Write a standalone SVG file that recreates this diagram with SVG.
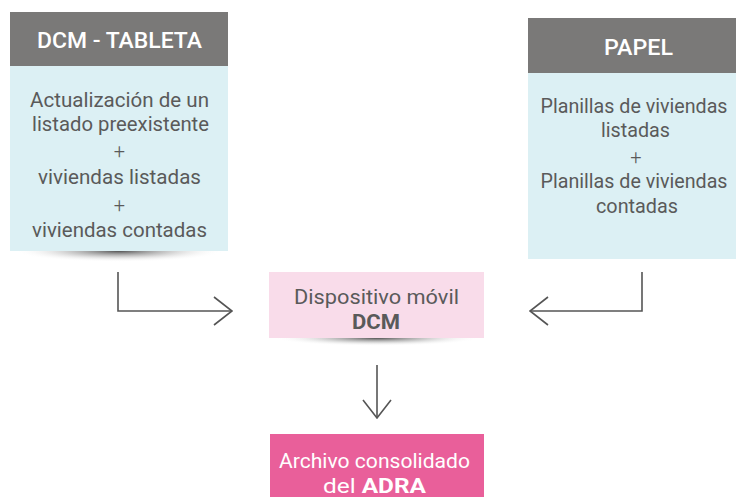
<svg xmlns="http://www.w3.org/2000/svg" width="736" height="497" viewBox="0 0 736 497">
<defs>
<radialGradient id="sh" cx="0.5" cy="0.5" r="0.5">
<stop offset="0" stop-color="#333" stop-opacity="0.85"/>
<stop offset="0.5" stop-color="#888" stop-opacity="0.4"/>
<stop offset="1" stop-color="#fff" stop-opacity="0"/>
</radialGradient>
<marker id="chev" viewBox="0 0 20 30" refX="19" refY="15" markerWidth="20" markerHeight="30" markerUnits="userSpaceOnUse" orient="auto">
<path d="M1,1 L19,15 L1,29" fill="none" stroke="#555" stroke-width="1.6"/>
</marker>
</defs>
<style>
.hdr{fill:#7a7978}
.body{fill:#dcf0f4}
.ht{font-family:Roboto,"Noto Sans",sans-serif;font-size:22px;font-weight:500;fill:#fff;text-anchor:middle}
.bt{font-family:Roboto,"Noto Sans",sans-serif;font-size:21px;fill:#5a5a5a;text-anchor:middle}
.pl{font-family:Roboto,"Noto Sans",sans-serif;font-size:20px;font-weight:300;fill:#5a5a5a;text-anchor:middle}
.wt{font-family:Roboto,"Noto Sans",sans-serif;font-size:21px;fill:#fff;text-anchor:middle}
.conn{fill:none;stroke:#555;stroke-width:1.6}
</style>
<rect width="736" height="497" fill="#fff"/>
<g id="dcm-tableta">
<ellipse cx="119" cy="251" rx="104" ry="11" fill="url(#sh)"/>
<rect class="body" x="10" y="66" width="218" height="185"/>
<rect class="hdr" x="10" y="12" width="218" height="54"/>
<text class="ht" x="119.5" y="48" textLength="165" lengthAdjust="spacingAndGlyphs">DCM - TABLETA</text>
<text class="bt" x="119.5" y="107" textLength="179" lengthAdjust="spacingAndGlyphs">Actualización de un</text>
<text class="bt" x="120.5" y="131" textLength="177" lengthAdjust="spacingAndGlyphs">listado preexistente</text>
<text class="pl" x="119.5" y="158">+</text>
<text class="bt" x="119.5" y="184" textLength="163" lengthAdjust="spacingAndGlyphs">viviendas listadas</text>
<text class="pl" x="119.5" y="212">+</text>
<text class="bt" x="119.5" y="237" textLength="175" lengthAdjust="spacingAndGlyphs">viviendas contadas</text>
</g>
<g id="papel">
<rect class="body" x="528" y="73" width="208" height="186"/>
<rect class="hdr" x="528" y="18" width="208" height="55"/>
<text class="ht" x="638.5" y="55" textLength="69" lengthAdjust="spacingAndGlyphs">PAPEL</text>
<text class="bt" x="634" y="113" font-size="19" textLength="187" lengthAdjust="spacingAndGlyphs">Planillas de viviendas</text>
<text class="bt" x="635.5" y="137" textLength="69" lengthAdjust="spacingAndGlyphs">listadas</text>
<text class="pl" x="636" y="164">+</text>
<text class="bt" x="634" y="188" font-size="19" textLength="187" lengthAdjust="spacingAndGlyphs">Planillas de viviendas</text>
<text class="bt" x="637" y="213" textLength="82" lengthAdjust="spacingAndGlyphs">contadas</text>
</g>
<g id="dispositivo">
<ellipse cx="377" cy="338" rx="102" ry="8" fill="url(#sh)"/>
<rect x="269" y="272" width="215" height="66" fill="#f9dcea"/>
<text class="bt" x="376.5" y="304" textLength="165" lengthAdjust="spacingAndGlyphs">Dispositivo móvil</text>
<text class="bt" x="376" y="329" font-weight="700" textLength="48" lengthAdjust="spacingAndGlyphs">DCM</text>
</g>
<g id="archivo">
<rect x="270" y="434" width="214" height="63" fill="#e95f9a"/>
<text class="wt" x="374.5" y="468" textLength="191" lengthAdjust="spacingAndGlyphs">Archivo consolidado</text>
<text class="wt" x="374.5" y="493" textLength="103" lengthAdjust="spacingAndGlyphs">del  <tspan font-weight="700">ADRA</tspan></text>
</g>
<g id="connectors">
<path class="conn" d="M118,272 V311 H232" marker-end="url(#chev)"/>
<path class="conn" d="M642,272 V311 H530" marker-end="url(#chev)"/>
<path class="conn" d="M377,365 V418" marker-end="url(#chev)"/>
</g>
</svg>
